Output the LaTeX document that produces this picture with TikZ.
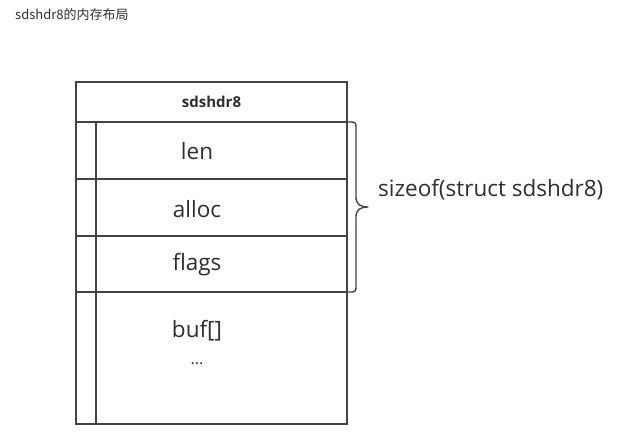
\documentclass[tikz,border=0pt]{standalone}
\usepackage{fontspec}
\setmainfont{Open Sans}
\newfontfamily\cjk{Noto Sans CJK SC}
\definecolor{linec}{HTML}{444444}
\definecolor{textc}{HTML}{2E2E2E}
\begin{document}
\begin{tikzpicture}[x=1pt,y=-1pt,
  boxline/.style={draw=linec,line width=1.4pt},
  fieldtxt/.style={text=textc,font=\fontsize{22.5}{25}\selectfont,inner sep=0pt},
  hdrtxt/.style={text=textc,font=\fontsize{15}{17}\selectfont\bfseries,inner sep=0pt},
]
\useasboundingbox (0,0) rectangle (629,447);
% outer structure
\coordinate (tl) at (76,82);
\coordinate (br) at (347,424);
\draw[boxline] (tl) rectangle (br);
\draw[boxline] (76,122) -- (347,122);
\draw[boxline] (76,179) -- (347,179);
\draw[boxline] (76,236) -- (347,236);
\draw[boxline] (76,292) -- (347,292);
\draw[boxline] (96,122) -- (96,424);
% title
\node[anchor=west,text=textc,font=\cjk\fontsize{13}{15}\selectfont,inner sep=0pt] (title) at (15,15) {sdshdr8的内存布局};
% texts
\node[hdrtxt] (hdr) at (211.5,102) {sdshdr8};
\node[fieldtxt] (len) at (197,151) {len};
\node[fieldtxt] (alloc) at (197,209) {alloc};
\node[fieldtxt] (flags) at (197,265) {flags};
\node[fieldtxt] (buf) at (197,331) {buf[]};
\node[text=textc,font=\fontsize{16}{18}\selectfont,inner sep=0pt] (dots) at (197,364) {...};
% brace
\coordinate (btop) at (347,122);
\coordinate (bbot) at (347,292);
\coordinate (btip) at (368,207);
\draw[draw=linec,line width=1.4pt,line join=round] (btop) -- (351,122) .. controls (355,122) and (356,123) .. (356,127) -- (356,197) .. controls (356,204) and (360,207) .. (btip) .. controls (360,207) and (356,210) .. (356,217) -- (356,287) .. controls (356,291) and (355,292) .. (351,292) -- (bbot);
\node[fieldtxt,anchor=west] (size) at (378,190) {sizeof(struct sdshdr8)};
\end{tikzpicture}
\end{document}
